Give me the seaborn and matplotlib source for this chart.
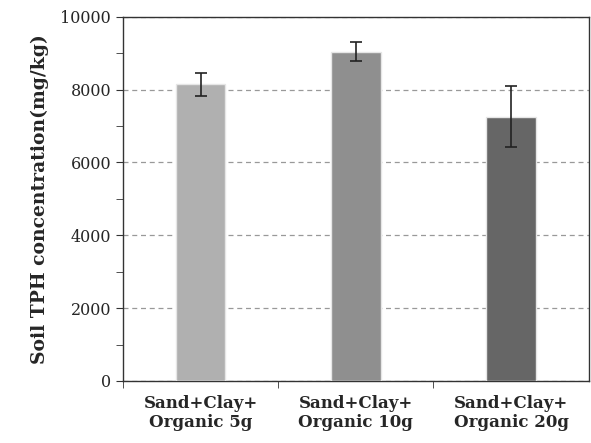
import numpy as np
import pandas as pd
import matplotlib
matplotlib.use("Agg")
import matplotlib.pyplot as plt
import seaborn as sns
from matplotlib.ticker import MultipleLocator, FixedLocator

## data ##

treatments = ["Sand+Clay+\nOrganic 5g", "Sand+Clay+\nOrganic 10g", "Sand+Clay+\nOrganic 20g"]
tph_mean = [8150, 9045, 7260]
tph_err = [315, 265, 840]
bar_colors = ["#b0b0b0", "#8f8f8f", "#666666"]

df = pd.DataFrame({"treatment": treatments, "tph": tph_mean})

sns.set_style("white")
plt.rcParams["font.family"] = ["DejaVu Serif"]

fig, ax = plt.subplots(figsize=(5.91, 4.43), dpi=100)
fig.subplots_adjust(left=0.208, right=0.996, top=0.962, bottom=0.14)

sns.barplot(data=df, x="treatment", y="tph", hue="treatment", palette=bar_colors,
            width=0.32, errorbar=None, legend=False, edgecolor="#e6e6e6", linewidth=1,
            zorder=3, ax=ax)
ax.errorbar(np.arange(len(treatments)), tph_mean, yerr=tph_err, fmt="none",
            ecolor="#222222", elinewidth=1.2, capsize=4, capthick=1.2, zorder=4)

ax.set_xlim(-0.5, 2.5)
ax.set_ylim(0, 10000)
ax.yaxis.set_major_locator(MultipleLocator(2000))
ax.yaxis.set_minor_locator(MultipleLocator(1000))
ax.xaxis.set_minor_locator(FixedLocator([-0.5, 0.5, 1.5]))

ax.grid(axis="y", which="major", linestyle=(0, (4, 3)), color="#999999", linewidth=0.9, zorder=0)
ax.set_axisbelow(True)

for s in ["left", "bottom", "top", "right"]:
    ax.spines[s].set_visible(True)
    ax.spines[s].set_color("#333333")
    ax.spines[s].set_linewidth(1)

ax.tick_params(axis="y", which="major", direction="out", length=5, labelsize=11.5, color="#333333", left=True)
ax.tick_params(axis="y", which="minor", direction="out", length=5, color="#333333", left=True)
ax.tick_params(axis="x", which="major", length=0, labelsize=12, pad=10)
ax.tick_params(axis="x", which="minor", direction="out", length=5, color="#333333", bottom=True)
for lbl in ax.get_xticklabels():
    lbl.set_fontweight("bold")

ax.set_xlabel("")
ax.set_ylabel("Soil TPH concentration(mg/kg)", fontsize=13.5, fontweight="bold", labelpad=8)

plt.savefig("out.png", dpi=100)
